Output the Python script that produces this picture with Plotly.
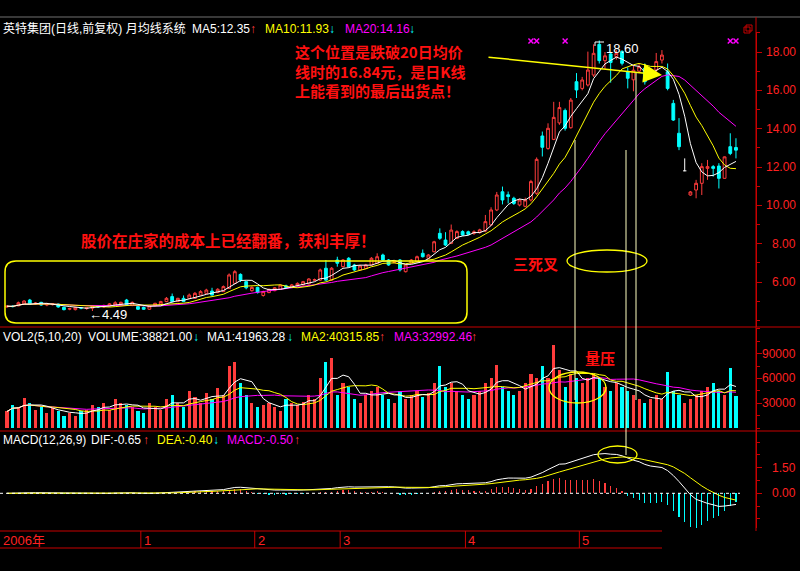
import plotly.graph_objects as go
import pandas as pd

W, H = 800, 571

# ---------------- data ----------------
opens = [4.70, 4.74, 4.76, 4.84, 5.06, 4.86, 4.94, 4.80, 4.82, 4.85,
         4.68, 4.58, 4.56, 4.66, 4.62, 4.64, 4.76, 4.70, 4.76, 4.80,
         4.84, 5.06, 4.78, 4.72, 4.68, 4.58, 4.76, 4.85, 4.98, 5.24,
         4.98, 5.15, 5.15, 5.15, 5.32, 5.41, 5.53, 5.45, 5.50, 5.67,
         5.93, 6.40, 6.02, 5.55, 5.72, 5.30, 5.45, 5.55, 5.62, 5.80,
         5.72, 5.80, 5.85, 5.90, 6.10, 6.10, 6.72, 6.10, 7.15, 6.80,
         7.24, 6.89, 6.63, 6.71, 6.89, 6.98, 7.41, 7.15, 7.02, 7.15,
         6.54, 6.98, 7.06, 7.50, 7.24, 7.58, 8.54, 8.19, 8.02, 8.28,
         8.63, 8.62, 8.54, 8.58, 8.66, 8.98, 9.76, 10.71, 10.55, 10.37,
         10.02, 9.95, 10.28, 10.63, 13.62, 12.97, 13.44, 14.30, 14.95, 14.05,
         16.45, 16.10, 16.28, 16.80, 18.40, 17.55, 17.90, 17.76, 18.02, 16.97,
         16.55, 17.00, 17.15, 16.85, 17.06, 17.58, 16.97, 15.32, 13.76, 11.80,
         10.54, 10.80, 11.15, 11.93, 12.02, 12.05, 11.41, 13.06, 13.02]
highs = [4.78, 4.80, 4.98, 5.05, 5.12, 4.95, 4.97, 4.92, 4.90, 4.88,
         4.72, 4.66, 4.70, 4.70, 4.70, 4.79, 4.80, 4.82, 4.90, 5.00,
         4.98, 5.12, 4.98, 4.76, 4.72, 4.78, 4.92, 5.02, 5.22, 5.40,
         5.18, 5.30, 5.40, 5.48, 5.58, 5.65, 5.70, 5.68, 5.82, 6.45,
         6.62, 6.45, 6.05, 5.78, 5.76, 5.55, 5.66, 5.74, 5.88, 5.86,
         5.90, 5.98, 6.06, 6.20, 6.18, 6.70, 7.15, 6.78, 7.32, 7.20,
         7.30, 6.95, 6.90, 6.95, 7.30, 7.50, 7.48, 7.20, 7.10, 7.20,
         6.94, 7.20, 7.38, 7.70, 7.46, 8.15, 8.80, 8.60, 9.00, 8.70,
         8.70, 8.68, 8.70, 8.78, 9.50, 9.90, 10.70, 10.98, 10.72, 10.45,
         10.35, 10.40, 11.33, 12.50, 13.85, 14.28, 15.40, 15.40, 15.05, 15.60,
         16.90, 16.70, 18.02, 18.40, 18.60, 18.00, 18.00, 18.10, 18.10, 17.20,
         17.30, 17.40, 17.40, 17.10, 17.95, 18.10, 17.40, 15.50, 14.55, 12.45,
         10.75, 11.33, 12.20, 12.37, 12.10, 12.20, 12.55, 13.76, 13.50]
lows = [4.66, 4.68, 4.74, 4.80, 4.80, 4.82, 4.76, 4.74, 4.78, 4.66,
        4.52, 4.53, 4.52, 4.58, 4.55, 4.49, 4.66, 4.66, 4.72, 4.78,
        4.80, 4.78, 4.74, 4.54, 4.55, 4.55, 4.72, 4.82, 4.95, 4.95,
        4.95, 4.95, 5.12, 5.12, 5.30, 5.38, 5.30, 5.42, 5.48, 5.65,
        5.90, 6.00, 5.62, 5.50, 5.40, 5.24, 5.42, 5.52, 5.60, 5.66,
        5.70, 5.76, 5.82, 5.88, 6.06, 6.06, 6.06, 6.06, 6.80, 6.76,
        6.76, 6.58, 6.60, 6.68, 6.86, 6.94, 7.10, 6.85, 6.98, 6.55,
        6.50, 6.94, 7.02, 7.28, 7.20, 7.55, 8.20, 7.88, 7.98, 8.24,
        8.40, 8.44, 8.46, 8.52, 8.60, 8.92, 9.70, 10.05, 10.10, 10.02,
        9.95, 9.90, 10.20, 10.55, 12.55, 12.90, 13.40, 14.20, 13.90, 14.00,
        15.60, 16.00, 16.20, 16.70, 17.40, 17.10, 16.40, 17.60, 17.30, 16.10,
        15.95, 16.90, 16.30, 16.70, 16.95, 17.40, 16.00, 14.40, 12.88, 11.78,
        10.50, 10.37, 10.54, 11.33, 11.50, 10.88, 11.40, 12.62, 12.45]
closes = [4.74, 4.72, 4.92, 5.01, 4.84, 4.90, 4.80, 4.88, 4.86, 4.70,
          4.56, 4.62, 4.68, 4.64, 4.66, 4.76, 4.70, 4.78, 4.86, 4.92,
          4.94, 4.80, 4.94, 4.58, 4.58, 4.75, 4.89, 4.98, 5.15, 4.98,
          5.15, 4.98, 5.32, 5.41, 5.50, 5.58, 5.32, 5.62, 5.76, 6.37,
          6.54, 6.10, 5.70, 5.72, 5.45, 5.50, 5.62, 5.70, 5.84, 5.72,
          5.85, 5.93, 6.02, 6.16, 6.12, 6.63, 6.10, 6.72, 6.98, 7.15,
          6.80, 6.63, 6.84, 6.89, 7.24, 7.32, 7.15, 6.89, 7.06, 6.63,
          6.89, 7.15, 7.32, 7.32, 7.41, 8.10, 8.28, 7.93, 8.71, 8.63,
          8.45, 8.49, 8.62, 8.72, 9.15, 9.76, 10.54, 10.28, 10.46, 10.10,
          10.28, 10.28, 11.24, 12.40, 13.03, 14.02, 14.59, 15.10, 14.02, 15.49,
          16.02, 16.54, 17.06, 17.93, 17.55, 17.80, 17.45, 17.93, 17.41, 16.63,
          17.05, 17.23, 16.45, 17.00, 17.50, 17.84, 16.10, 14.45, 13.06, 11.80,
          10.70, 11.15, 12.02, 12.02, 11.93, 11.41, 12.53, 12.71, 12.88]
volumes_k = [20, 28, 25, 36, 30, 22, 26, 18, 24, 20,
             15, 18, 15, 20, 22, 28, 25, 30, 22, 35,
             30, 28, 25, 20, 18, 30, 25, 22, 35, 40,
             30, 25, 45, 38, 30, 42, 35, 48, 40, 75,
             80, 55, 40, 30, 25, 28, 30, 25, 20, 35,
             30, 28, 32, 40, 35, 60, 80, 85, 40, 55,
             50, 35, 30, 40, 45, 50, 40, 35, 30, 45,
             35, 40, 45, 38, 42, 55, 75, 50, 55, 45,
             40, 35, 40, 45, 55, 60, 76, 50, 45, 40,
             45, 55, 65, 60, 75, 60, 100, 70, 50, 65,
             60, 55, 60, 65, 60, 50, 45, 55, 50, 45,
             40, 35, 30, 35, 40, 35, 68, 45, 40, 30,
             35, 40, 45, 50, 55, 45, 40, 72, 39]
month_labels = ["2006年", "1", "2", "3", "4", "5"]
month_first_idx = [0, 24, 44, 59, 81, 101]
price_ticks = [6, 8, 10, 12, 14, 16, 18]
vol_ticks = [30000, 60000, 90000]
macd_ticks = [0.0, 1.5]
info_mark_idx = [92, 93, 98, 127, 128]
doji_idx = [119]

# ---------------- indicators ----------------
n = len(closes)
idx = list(range(n))
c = pd.Series(closes)
ma5 = c.rolling(5, min_periods=1).mean()
ma10 = c.rolling(10, min_periods=1).mean()
ma20 = c.rolling(20, min_periods=1).mean()
vol = pd.Series([v * 1000 for v in volumes_k])
vma5 = vol.rolling(5, min_periods=1).mean()
vma10 = vol.rolling(10, min_periods=1).mean()
vma20 = vol.rolling(20, min_periods=1).mean()
dif = c.ewm(span=12, adjust=False).mean() - c.ewm(span=26, adjust=False).mean()
dea = dif.ewm(span=9, adjust=False).mean()
macd = 2 * (dif - dea)

RED = "#ff3c3c"
CYAN = "#00ffff"
YEL = "#ffff00"
MAG = "#ff00ff"
WHITE = "#ffffff"
AXR = "#c80000"
LAT = "Liberation Sans, Arial, DejaVu Sans"
CJK = "Liberation Sans, Noto Sans CJK SC, DejaVu Sans"


def px(x):
    return x / W


def py(y):
    return 1 - y / H


fig = go.Figure()

normal = [i for i in idx if i not in doji_idx]
fig.add_trace(go.Candlestick(
    x=normal, open=[opens[i] for i in normal], high=[highs[i] for i in normal],
    low=[lows[i] for i in normal], close=[closes[i] for i in normal],
    increasing=dict(line=dict(color=RED, width=1), fillcolor="#000000"),
    decreasing=dict(line=dict(color=CYAN, width=1), fillcolor=CYAN),
    whiskerwidth=0, xaxis="x", yaxis="y", showlegend=False, hoverinfo="skip"))
for i in doji_idx:
    fig.add_trace(go.Scatter(x=[i, i, None, i - 0.3, i + 0.3],
                             y=[highs[i], lows[i], None, closes[i], closes[i]],
                             mode="lines", line=dict(color=WHITE, width=1),
                             xaxis="x", yaxis="y", showlegend=False, hoverinfo="skip"))
for s, col in [(ma20, MAG), (ma10, YEL), (ma5, WHITE)]:
    fig.add_trace(go.Scatter(x=idx, y=s, mode="lines", line=dict(color=col, width=1),
                             xaxis="x", yaxis="y", showlegend=False, hoverinfo="skip"))
fig.add_trace(go.Scatter(x=info_mark_idx, y=[18.57] * len(info_mark_idx), mode="markers",
                         marker=dict(symbol="x-thin", size=5, line=dict(color=MAG, width=1.5)),
                         xaxis="x", yaxis="y", showlegend=False, hoverinfo="skip"))

vcol = [RED if closes[i] >= opens[i] else CYAN for i in idx]
fig.add_trace(go.Bar(x=idx, y=vol, marker=dict(color=vcol, line=dict(width=0)), width=0.55,
                     xaxis="x2", yaxis="y2", showlegend=False, hoverinfo="skip"))
for s, col in [(vma20, MAG), (vma10, YEL), (vma5, WHITE)]:
    fig.add_trace(go.Scatter(x=idx, y=s, mode="lines", line=dict(color=col, width=1),
                             xaxis="x2", yaxis="y2", showlegend=False, hoverinfo="skip"))

mcol = [RED if v >= 0 else CYAN for v in macd]
fig.add_trace(go.Bar(x=idx, y=macd, marker=dict(color=mcol, line=dict(width=0)), width=0.2,
                     xaxis="x3", yaxis="y3", showlegend=False, hoverinfo="skip"))
fig.add_trace(go.Scatter(x=idx, y=dif, mode="lines", line=dict(color=WHITE, width=1),
                         xaxis="x3", yaxis="y3", showlegend=False, hoverinfo="skip"))
fig.add_trace(go.Scatter(x=idx, y=dea, mode="lines", line=dict(color=YEL, width=1),
                         xaxis="x3", yaxis="y3", showlegend=False, hoverinfo="skip"))

# ---------------- layout ----------------
x_left_px, x_step_px, axis_px = 7, 5.695, 756
r0 = -x_left_px / x_step_px
r1 = r0 + axis_px / x_step_px
xdom = [0, px(axis_px)]


def xa(anchor):
    return dict(domain=xdom, range=[r0, r1], visible=False, anchor=anchor,
                rangeslider=dict(visible=False), fixedrange=True)


def ya(dom_top, dom_bot, rng, ticks):
    return dict(domain=[py(dom_bot), py(dom_top)], range=rng, side="right", anchor="free",
                position=px(axis_px), showgrid=False, zeroline=False,
                showline=True, linecolor=AXR, linewidth=1,
                ticks="outside", ticklen=5, tickcolor=AXR,
                tickvals=ticks, showticklabels=False,
                minor=dict(ticks="outside", ticklen=3, tickcolor=AXR), fixedrange=True)


p_top, p_bot = 32, 327
price_rng = [18 - (p_bot - 52) / 19.17, 18 - (p_top - 52) / 19.17]
v_top, v_bot, v0, vpp = 328, 431, 428, 24.8 / 30000
vol_rng = [-(v_bot - v0) / vpp, (v0 - v_top) / vpp]
m_top, m_bot, m0, mpp = 431, 528, 493.3, 17.07
macd_rng = [-(m_bot - m0) / mpp, (m0 - m_top) / mpp]

yp = ya(p_top, p_bot, price_rng, price_ticks)
yp["minor"]["dtick"] = 1
yv = ya(v_top, v_bot, vol_rng, vol_ticks)
yv["minor"]["dtick"] = 15000
ym = ya(m_top, m_bot, macd_rng, macd_ticks)
ym["minor"]["dtick"] = 0.75

fig.update_layout(
    width=W, height=H, margin=dict(l=0, r=0, t=0, b=0),
    paper_bgcolor="#000000", plot_bgcolor="rgba(0,0,0,0)",
    xaxis=xa("y"), xaxis2=dict(xa("y2"), matches="x"), xaxis3=dict(xa("y3"), matches="x"),
    yaxis=yp, yaxis2=yv, yaxis3=ym, bargap=0, showlegend=False,
)

shapes = []


def hline(y, x0=0, x1=W, color=AXR, width=1, dash="solid"):
    shapes.append(dict(type="line", xref="paper", yref="paper", x0=px(x0), x1=px(x1),
                       y0=py(y), y1=py(y), line=dict(color=color, width=width, dash=dash)))


def vline_px(x, y0, y1, color=AXR, width=1):
    shapes.append(dict(type="line", xref="paper", yref="paper", x0=px(x), x1=px(x),
                       y0=py(y0), y1=py(y1), line=dict(color=color, width=width)))


hline(17, color="#707070")
hline(327)
hline(431)
hline(531, 0, 662)
hline(548, 0, 662)
vline_px(axis_px, 17, 531)
shapes.append(dict(type="line", xref="paper", yref="y3", x0=0, x1=px(740), y0=0, y1=0,
                   line=dict(color=WHITE, width=1, dash="dot")))

for k, mi in enumerate(month_first_idx):
    if k > 0:
        shapes.append(dict(type="line", xref="x", yref="paper", x0=mi - 0.5, x1=mi - 0.5,
                           y0=py(548), y1=py(531), line=dict(color=AXR, width=1)))

L, R, T, B, rad = 5, 467, 261, 323, 11
path = (f"M {px(L+rad)},{py(T)} L {px(R-rad)},{py(T)} Q {px(R)},{py(T)} {px(R)},{py(T+rad)} "
        f"L {px(R)},{py(B-rad)} Q {px(R)},{py(B)} {px(R-rad)},{py(B)} "
        f"L {px(L+rad)},{py(B)} Q {px(L)},{py(B)} {px(L)},{py(B-rad)} "
        f"L {px(L)},{py(T+rad)} Q {px(L)},{py(T)} {px(L+rad)},{py(T)} Z")
shapes.append(dict(type="path", xref="paper", yref="paper", path=path,
                   line=dict(color=YEL, width=1.5)))

for (x0, y0, x1, y1) in [(567, 250, 647, 272), (549, 372, 606, 403), (598, 446, 637, 463)]:
    shapes.append(dict(type="circle", xref="paper", yref="paper", x0=px(x0), x1=px(x1),
                       y0=py(y1), y1=py(y0), line=dict(color=YEL, width=1.3)))

for (x, y0, y1) in [(575, 140, 400), (626, 150, 455), (636, 73, 400)]:
    vline_px(x, y0, y1, color="#ffffc0", width=1)

shapes.append(dict(type="line", xref="paper", yref="paper", x0=px(595), x1=px(604),
                   y0=py(42), y1=py(42), line=dict(color=WHITE, width=1)))
shapes.append(dict(type="line", xref="paper", yref="paper", x0=px(595), x1=px(595),
                   y0=py(42), y1=py(46), line=dict(color=WHITE, width=1)))
shapes.append(dict(type="rect", xref="paper", yref="paper", x0=px(744), x1=px(750),
                   y0=py(33), y1=py(27), line=dict(color=AXR, width=1)))
shapes.append(dict(type="rect", xref="paper", yref="paper", x0=px(746), x1=px(752),
                   y0=py(31), y1=py(25), line=dict(color=AXR, width=1)))

fig.update_layout(shapes=shapes)

ann = []


def txt(x, y, s, color=WHITE, size=12, family=CJK, xanchor="left", yanchor="middle"):
    ann.append(dict(x=px(x), y=py(y), xref="paper", yref="paper", text=s, showarrow=False,
                    xanchor=xanchor, yanchor=yanchor, borderpad=0, align="left",
                    font=dict(color=color, size=size, family=family)))


for t in price_ticks:
    ann.append(dict(x=px(797), y=t, xref="paper", yref="y", text=f"{t:.2f}", showarrow=False,
                    xanchor="right", yanchor="middle", borderpad=0,
                    font=dict(color="#ff2020", size=12, family=LAT)))
for t in vol_ticks:
    ann.append(dict(x=px(797), y=t, xref="paper", yref="y2", text=f"{t:.0f}", showarrow=False,
                    xanchor="right", yanchor="middle", borderpad=0,
                    font=dict(color="#ff2020", size=12, family=LAT)))
for t in macd_ticks:
    ann.append(dict(x=px(797), y=t, xref="paper", yref="y3", text=f"{t:.2f}", showarrow=False,
                    xanchor="right", yanchor="middle", borderpad=0,
                    font=dict(color="#ff2020", size=12, family=LAT)))

txt(2, 29, "英特集团(日线,前复权) 月均线系统")
txt(191, 29, "MA5:12.35")
txt(249, 29, "↑", RED)
txt(264, 29, "MA10:11.93", YEL)
txt(328, 29, "↓", CYAN)
txt(344, 29, "MA20:14.16", MAG)
txt(408, 29, "↓", CYAN)

txt(2, 337, "VOL2(5,10,20)")
txt(87, 337, "VOLUME:38821.00")
txt(192, 337, "↓", CYAN)
txt(206, 337, "MA1:41963.28")
txt(286, 337, "↓", CYAN)
txt(300, 337, "MA2:40315.85", YEL)
txt(378, 337, "↑", RED)
txt(393, 337, "MA3:32992.46", MAG)
txt(470, 337, "↑", RED)

txt(2, 440, "MACD(12,26,9)")
txt(90, 440, "DIF:-0.65")
txt(142, 440, "↑", RED)
txt(156, 440, "DEA:-0.40", YEL)
txt(212, 440, "↓", CYAN)
txt(226, 440, "MACD:-0.50", MAG)
txt(293, 440, "↑", RED)

for lab, mi in zip(month_labels, month_first_idx):
    ann.append(dict(x=(mi - 0.5) if mi > 0 else r0, y=py(540), xref="x", yref="paper",
                    text=lab, showarrow=False, xanchor="left", yanchor="middle", xshift=2,
                    borderpad=0, font=dict(color="#ff2020", size=13, family=CJK)))

RTXT = "#ff1010"
NOTE = "Noto Sans CJK SC, DejaVu Sans"
txt(294, 40, "<b>这个位置是跌破20日均价<br>线时的16.84元，是日K线<br>上能看到的最后出货点！</b>",
    RTXT, 15, NOTE, yanchor="top")
txt(80, 240, "<b>股价在庄家的成本上已经翻番，获利丰厚！</b>", RTXT, 15.5, NOTE)
txt(512, 263, "<b>三死叉</b>", RTXT, 15, NOTE)
txt(584, 357, "<b>量压</b>", RTXT, 15, NOTE)
txt(605, 48, "18.60", WHITE, 13, LAT)
txt(88, 314, "←4.49", WHITE, 13, LAT)

ann.append(dict(x=px(662), y=py(75), xref="paper", yref="paper", ax=487 - 662, ay=57 - 75,
                axref="pixel", ayref="pixel", text="", showarrow=True, arrowhead=2,
                arrowsize=2.5, arrowwidth=1.5, arrowcolor=YEL))

fig.update_layout(annotations=ann)
fig.write_html("out.html", config={"displayModeBar": False, "staticPlot": True},
               post_script="document.body.style.margin='0';document.body.style.overflow='hidden';")
